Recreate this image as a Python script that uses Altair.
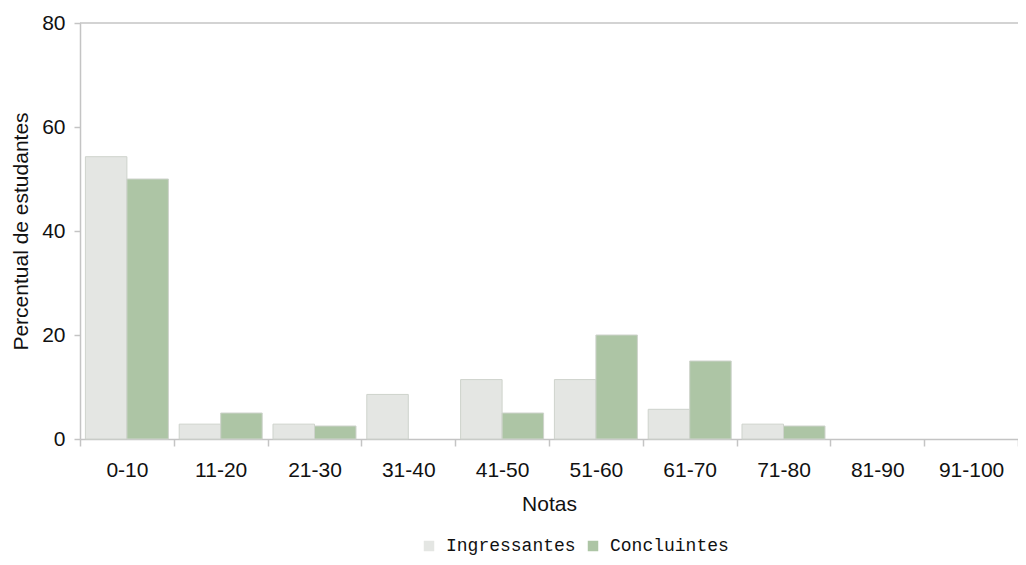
import altair as alt
import pandas as pd

categorias = ["0-10", "11-20", "21-30", "31-40", "41-50", "51-60", "61-70", "71-80", "81-90", "91-100"]
ingressantes = [54.29, 2.86, 2.86, 8.57, 11.43, 11.43, 5.71, 2.86, 0, 0]
concluintes = [50.0, 5.0, 2.5, 0, 5.0, 20.0, 15.0, 2.5, 0, 0]
series = ["Ingressantes", "Concluintes"]
cores = ["#e4e6e3", "#adc5a5"]

rows = []
for c, a, b in zip(categorias, ingressantes, concluintes):
    rows.append({"Notas": c, "Grupo": "Ingressantes", "Valor": a})
    rows.append({"Notas": c, "Grupo": "Concluintes", "Valor": b})
df = pd.DataFrame(rows)

FONT = "Liberation Sans"
AXC = "#c4c4c4"

bars = alt.Chart(df).transform_filter(alt.datum.Valor > 0).mark_bar(stroke="#ced3cc", strokeWidth=1).encode(
    x=alt.X(
        "Notas:N", sort=categorias,
        scale=alt.Scale(domain=categorias, paddingInner=0, paddingOuter=0),
        axis=alt.Axis(
            title="Notas", labelAngle=0, tickBand="extent",
            domainColor=AXC, domainWidth=1.5, tickColor=AXC, tickWidth=1.5, tickSize=7,
            labelFont=FONT, labelFontSize=21, labelColor="#111111", labelPadding=13,
            titleFont=FONT, titleFontSize=21, titleFontWeight="normal", titleColor="#111111",
            titlePadding=13,
        ),
    ),
    xOffset=alt.XOffset("Grupo:N", sort=series, scale=alt.Scale(domain=series, paddingInner=0, paddingOuter=0.13)),
    y=alt.Y(
        "Valor:Q", scale=alt.Scale(domain=[0, 80]),
        axis=alt.Axis(
            values=[0, 20, 40, 60, 80], grid=False, title="Percentual de estudantes",
            domainColor=AXC, domainWidth=1.5, tickColor=AXC, tickWidth=1.5, tickSize=6,
            labelFont=FONT, labelFontSize=21, labelColor="#111111", labelPadding=9,
            titleFont=FONT, titleFontSize=21, titleFontWeight="normal", titleColor="#111111",
            titlePadding=10,
        ),
    ),
    color=alt.Color(
        "Grupo:N", sort=series,
        scale=alt.Scale(domain=series, range=cores),
        legend=alt.Legend(
            title=None, orient="none", direction="horizontal",
            legendX=340, legendY=514, padding=0,
            symbolType="square", symbolSize=110, symbolStrokeWidth=0,
            labelFont="Liberation Mono", labelFontSize=18, labelColor="#111111",
            labelOffset=8, columnPadding=8,
        ),
    ),
)

top = alt.Chart(pd.DataFrame({"y": [80]})).mark_rule(color=AXC, strokeWidth=1.5).encode(y="y:Q")

chart = alt.layer(bars, top).properties(
    width=938, height=416,
    padding={"left": 72, "top": 15, "right": 0, "bottom": 118},
    autosize=alt.AutoSizeParams(type="none"),
).configure_view(stroke=None)

chart.save("out.html", embed_options={"renderer": "svg", "actions": False})
